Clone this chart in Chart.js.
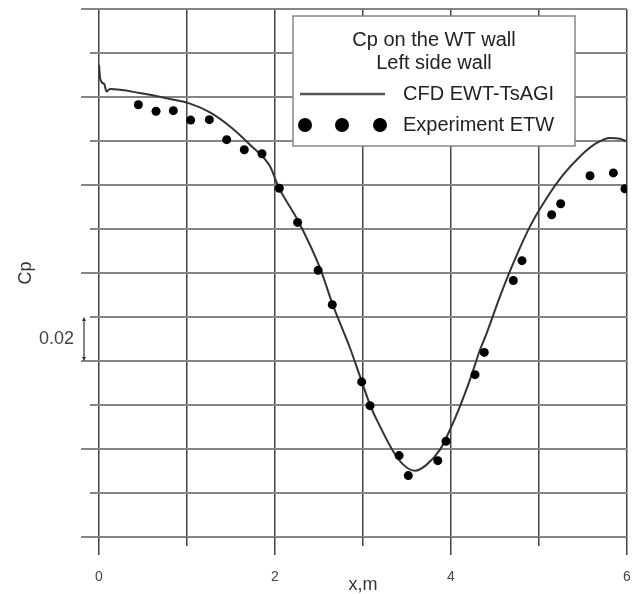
<!DOCTYPE html>
<html>
<head>
<meta charset="utf-8">
<title>Cp on the WT wall</title>
<script src="https://cdn.jsdelivr.net/npm/chart.js@4/dist/chart.umd.min.js"></script>
<style>
  html, body { margin: 0; padding: 0; background: #fff; }
</style>
</head>
<body>
<canvas id="cpChart" width="640" height="594"></canvas>
<script>
// CFD EWT-TsAGI curve, x in m
const cfdX = [0, 0.015, 0.06, 0.085, 0.125, 0.466, 0.807, 1.034, 1.261, 1.489,
    1.716, 1.943, 2.037, 2.265, 2.511, 2.656, 2.852, 2.966, 3.08, 3.193,
    3.344, 3.458, 3.591, 3.724, 3.875, 3.989, 4.102, 4.216, 4.33, 4.406,
    4.557, 4.708, 4.898, 5.088, 5.276, 5.466, 5.656, 5.807, 5.92, 5.997];
const cfdCp = [0.0547, 0.048, 0.0458, 0.0425, 0.0436, 0.0418, 0.0391, 0.037, 0.033, 0.0266,
    0.0183, 0.0085, -0.0006, -0.0165, -0.0377, -0.0544, -0.0741, -0.087, -0.0999, -0.1097,
    -0.1211, -0.1271, -0.1299, -0.1271, -0.1203, -0.1112, -0.1006, -0.0885, -0.0749, -0.0673,
    -0.0506, -0.0355, -0.0188, -0.0059, 0.0047, 0.013, 0.0191, 0.0214, 0.021, 0.0198];

// Experiment ETW
const expX = [0.447, 0.648, 0.845, 1.042, 1.254, 1.451, 1.651, 1.852, 2.049, 2.257,
    2.49, 2.651, 2.985, 3.08, 3.41, 3.515, 3.85, 3.943, 4.273, 4.378,
    4.708, 4.807, 5.144, 5.246, 5.58, 5.845, 5.977];
const expCp = [0.0365, 0.0335, 0.0338, 0.0295, 0.0297, 0.0206, 0.016, 0.0142, -0.0015, -0.017,
    -0.0388, -0.0544, -0.0895, -0.1003, -0.123, -0.1321, -0.1253, -0.1165, -0.0862, -0.0761,
    -0.0434, -0.0344, -0.0135, -0.0085, 0.0042, 0.0055, -0.0017];

const xTicks = [0, 1, 2, 3, 4, 5, 6];
const xLabels = ['0', '', '2', '', '4', '', '6'];
const seriesNames = ['CFD EWT-TsAGI', 'Experiment ETW'];
const legendTitle = ['Cp on the WT wall', 'Left side wall'];

// 0.02 scale bar on the left
const barFrom = -0.08;
const barTo = -0.06;
const barLabel = '0.02';

const FONT = '"Liberation Sans", Arial, sans-serif';
const xGridColor = '#444';
const yGridColor = '#858585';

Chart.defaults.font.family = FONT;
Chart.defaults.color = '#444';

function alignPx(chart, px, width) {
    const dpr = chart.currentDevicePixelRatio;
    const half = width / 2;
    return Math.round((px - half) * dpr) / dpr + half;
}

function isMajorY(v) {
    return Math.abs(Math.round(v / 0.04) * 0.04 - v) < 1e-6;
}

// Tick marks outside the plot: long ones on major lines, short on minor
const tickMarks = {
    id: 'tickMarks',
    afterDraw(chart) {
        const { ctx, chartArea, scales } = chart;
        ctx.save();
        ctx.strokeStyle = xGridColor;
        ctx.lineWidth = 1.5;
        scales.x.ticks.forEach(t => {
            const px = alignPx(chart, scales.x.getPixelForValue(t.value), 1.5);
            const len = t.value % 2 === 0 ? 18 : 9;
            ctx.beginPath();
            ctx.moveTo(px, chartArea.bottom);
            ctx.lineTo(px, chartArea.bottom + len);
            ctx.stroke();
        });
        ctx.strokeStyle = yGridColor;
        ctx.lineWidth = 2;
        scales.y.ticks.forEach(t => {
            const py = alignPx(chart, scales.y.getPixelForValue(t.value), 2);
            const len = isMajorY(t.value) ? 18 : 9;
            ctx.beginPath();
            ctx.moveTo(chartArea.left - len, py);
            ctx.lineTo(chartArea.left, py);
            ctx.stroke();
        });
        ctx.restore();
    }
};

// Vertical 0.02 scale bar with its label
const scaleBar = {
    id: 'scaleBar',
    afterDraw(chart) {
        const { ctx, chartArea, scales } = chart;
        const x = chartArea.left - 15;
        const yA = scales.y.getPixelForValue(barFrom);
        const yB = scales.y.getPixelForValue(barTo);
        ctx.save();
        ctx.strokeStyle = '#333';
        ctx.fillStyle = '#333';
        ctx.lineWidth = 1.2;
        ctx.beginPath();
        ctx.moveTo(x, yB + 2);
        ctx.lineTo(x, yA - 2);
        ctx.stroke();
        // arrow heads
        ctx.beginPath();
        ctx.moveTo(x, yB);
        ctx.lineTo(x - 2, yB + 4);
        ctx.lineTo(x + 2, yB + 4);
        ctx.closePath();
        ctx.fill();
        ctx.beginPath();
        ctx.moveTo(x, yA);
        ctx.lineTo(x - 2, yA - 4);
        ctx.lineTo(x + 2, yA - 4);
        ctx.closePath();
        ctx.fill();
        ctx.font = '18px ' + FONT;
        ctx.fillStyle = '#444';
        ctx.textAlign = 'right';
        ctx.textBaseline = 'middle';
        ctx.fillText(barLabel, x - 10, (yA + yB) / 2);
        ctx.restore();
    }
};

// Boxed legend in the top of the plot
const wallLegend = {
    id: 'wallLegend',
    afterDatasetsDraw(chart) {
        const { ctx, chartArea } = chart;
        const ds = chart.data.datasets;
        const x0 = chartArea.left + 194;
        const y0 = chartArea.top + 7;
        const w = 282, h = 130;
        ctx.save();
        ctx.fillStyle = '#fff';
        ctx.fillRect(x0, y0, w, h);
        ctx.strokeStyle = '#888';
        ctx.lineWidth = 1.5;
        ctx.strokeRect(x0, y0, w, h);

        ctx.font = '20px ' + FONT;
        ctx.fillStyle = '#222';
        ctx.textAlign = 'center';
        ctx.textBaseline = 'middle';
        legendTitle.forEach((line, i) => ctx.fillText(line, x0 + w / 2, y0 + 24 + i * 23));

        ctx.strokeStyle = '#555';
        ctx.lineWidth = 2.5;
        ctx.beginPath();
        ctx.moveTo(x0 + 7, y0 + 78);
        ctx.lineTo(x0 + 92, y0 + 78);
        ctx.stroke();

        ctx.fillStyle = '#000';
        [12, 49, 87].forEach(dx => {
            ctx.beginPath();
            ctx.arc(x0 + dx, y0 + 109, 7, 0, Math.PI * 2);
            ctx.fill();
        });

        ctx.fillStyle = '#222';
        ctx.textAlign = 'left';
        ctx.fillText(ds[0].label, x0 + 110, y0 + 78);
        ctx.fillText(ds[1].label, x0 + 110, y0 + 109);
        ctx.restore();
    }
};

const ctx = document.getElementById('cpChart').getContext('2d');
const cpChart = new Chart(ctx, {
    type: 'scatter',
    data: {
        datasets: [{
            label: seriesNames[0],
            data: cfdX.map((x, i) => ({ x: x, y: cfdCp[i] })),
            showLine: true,
            borderColor: '#333',
            borderWidth: 2,
            pointRadius: 0,
            cubicInterpolationMode: 'monotone',
            order: 2
        }, {
            label: seriesNames[1],
            data: expX.map((x, i) => ({ x: x, y: expCp[i] })),
            showLine: false,
            backgroundColor: '#000',
            borderColor: '#000',
            pointRadius: 4.5,
            borderWidth: 0,
            order: 1
        }]
    },
    options: {
        responsive: false,
        animation: false,
        layout: { padding: { top: 9, right: 13, left: 0, bottom: 0 } },
        plugins: {
            legend: { display: false },
            tooltip: { enabled: false }
        },
        scales: {
            x: {
                type: 'linear',
                min: 0,
                max: 6,
                afterBuildTicks: scale => { scale.ticks = xTicks.map(v => ({ value: v })); },
                afterFit: scale => { scale.height = 57; },
                ticks: {
                    callback: (v, i) => xLabels[i],
                    font: { size: 14 },
                    color: '#444',
                    padding: 3,
                    maxRotation: 0,
                    autoSkip: false
                },
                // invisible tick marks only push the labels down; visible ones come from tickMarks
                grid: { color: xGridColor, lineWidth: 1.5, drawTicks: true, tickLength: 29, tickColor: 'transparent' },
                border: { display: false },
                title: {
                    display: true,
                    text: 'x,m',
                    font: { size: 18, lineHeight: 1 },
                    color: '#333',
                    padding: 0
                }
            },
            y: {
                type: 'linear',
                min: -0.16,
                max: 0.08,
                afterFit: scale => { scale.width = 99; },
                ticks: { display: false, stepSize: 0.02 },
                grid: { color: yGridColor, lineWidth: 2, drawTicks: false },
                border: { display: false },
                title: {
                    display: true,
                    text: 'Cp',
                    font: { size: 18 },
                    color: '#333',
                    padding: { top: 15, bottom: 0 }
                }
            }
        }
    },
    plugins: [tickMarks, scaleBar, wallLegend]
});
</script>
</body>
</html>
